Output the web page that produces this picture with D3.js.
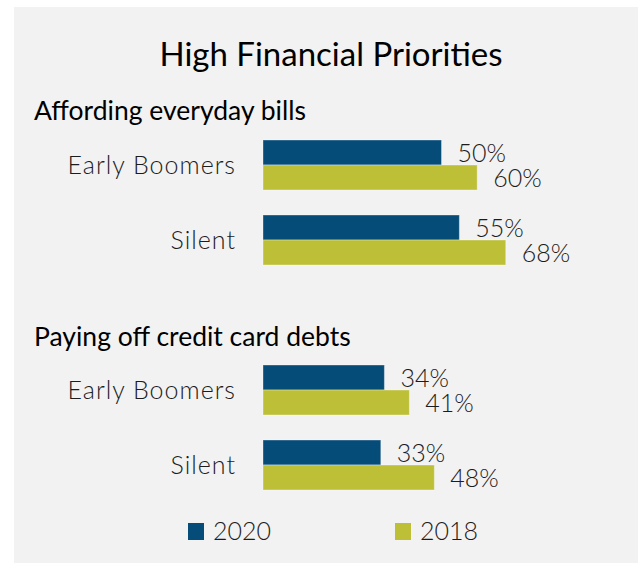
<!DOCTYPE html>
<html>
<head>
<meta charset="utf-8">
<script src="https://cdn.jsdelivr.net/npm/d3@7"></script>
<style>
  html, body { margin: 0; padding: 0; background: #ffffff; }
  svg { display: block; font-family: "Lato", "Open Sans", sans-serif; }
</style>
</head>
<body>
<svg id="chart" width="638" height="563"></svg>
<script>
// Chart data
const title = "High Financial Priorities";
const sections = ["Affording everyday bills", "Paying off credit card debts"];
const categories = ["Early Boomers", "Silent"];
const seriesNames = ["2020", "2018"];
const seriesColors = ["#054c79", "#bdc037"];
// values per section: [category][series]
const billsValues = [[50, 60], [55, 68]];
const creditValues = [[34, 41], [33, 48]];
const sectionValues = [billsValues, creditValues];

const W = 638, H = 563;
const svg = d3.select("#chart");

// panel background
svg.append("rect")
  .attr("x", 14).attr("y", 7)
  .attr("width", W - 14).attr("height", H - 7)
  .attr("fill", "#f2f2f2");

const textColor = "#1c1c1c";

svg.append("text")
  .attr("x", 331).attr("y", 66)
  .attr("text-anchor", "middle")
  .attr("font-size", 33)
  .attr("fill", "#000")
  .text(title);

const x = d3.scaleLinear().domain([0, 100]).range([263, 620]);

const sectionTops = [140, 365];
const headerBaselines = [120, 346];

const yCat = d3.scaleBand().domain(categories).range([0, 125]).paddingInner(1 / 3).paddingOuter(0);
const ySer = d3.scaleBand().domain(seriesNames).range([0, yCat.bandwidth()]).padding(0);
const color = d3.scaleOrdinal().domain(seriesNames).range(seriesColors);

sections.forEach((name, si) => {
  const g = svg.append("g").attr("transform", `translate(0,${sectionTops[si]})`);

  svg.append("text")
    .attr("x", 34).attr("y", headerBaselines[si])
    .attr("font-size", 26.5)
    .attr("fill", "#000")
    .text(name);

  const cat = g.selectAll("g.cat")
    .data(categories.map((c, ci) => ({ c, vals: sectionValues[si][ci] })))
    .join("g")
    .attr("class", "cat")
    .attr("transform", d => `translate(0,${yCat(d.c)})`);

  cat.append("text")
    .attr("x", 236)
    .attr("y", yCat.bandwidth() / 2 + 8.5)
    .attr("text-anchor", "end")
    .attr("font-size", 25)
    .attr("font-weight", 300)
    .attr("letter-spacing", 1)
    .attr("fill", textColor)
    .text(d => d.c);

  const bars = cat.selectAll("g.bar")
    .data(d => seriesNames.map((s, i) => ({ s, v: d.vals[i] })))
    .join("g")
    .attr("class", "bar");

  bars.append("rect")
    .attr("x", x(0))
    .attr("y", d => ySer(d.s))
    .attr("width", d => x(d.v) - x(0))
    .attr("height", ySer.bandwidth())
    .attr("fill", d => color(d.s))
    .attr("stroke", "rgba(255,255,255,0.35)")
    .attr("stroke-width", 1);

  bars.append("text")
    .attr("x", d => x(d.v) + 16)
    .attr("y", d => ySer(d.s) + ySer.bandwidth() / 2 + 9)
    .attr("font-size", 25)
    .attr("font-weight", 300)
    .attr("fill", textColor)
    .text(d => d.v + "%");
});

// legend
const legendX = [188, 395];
const legend = svg.selectAll("g.legend")
  .data(seriesNames)
  .join("g")
  .attr("class", "legend")
  .attr("transform", (d, i) => `translate(${legendX[i]},523)`);

legend.append("rect")
  .attr("width", 16).attr("height", 17)
  .attr("fill", d => color(d));

legend.append("text")
  .attr("x", 25).attr("y", 17)
  .attr("font-size", 25)
  .attr("font-weight", 300)
  .attr("fill", textColor)
  .text(d => d);
</script>
</body>
</html>
